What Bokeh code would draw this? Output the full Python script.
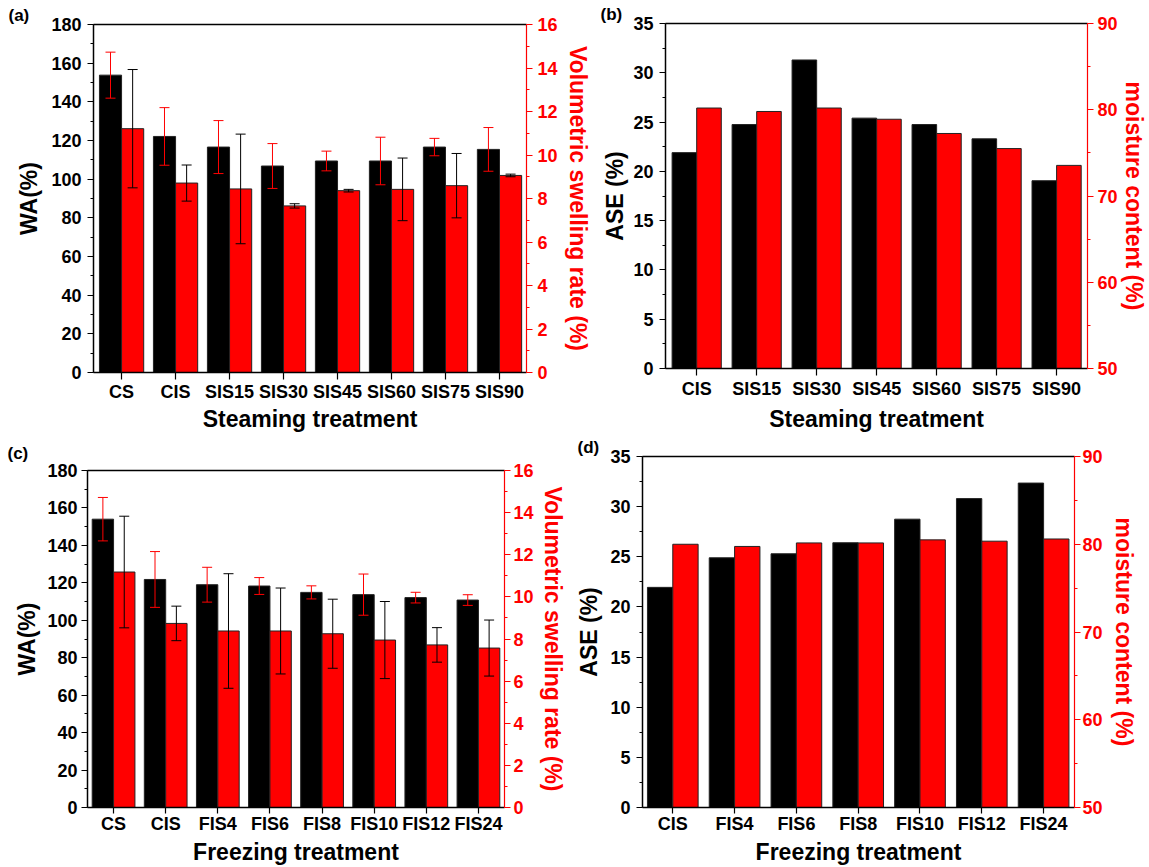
import numpy as np
from bokeh.plotting import figure
from bokeh.models import (Range1d, LinearAxis, FixedTicker, SingleIntervalTicker,
                          Whisker, TeeHead, ColumnDataSource)
from bokeh.layouts import row, column
from bokeh.embed import file_html
from bokeh.resources import INLINE

# ---------------- data ----------------
steam_cats_a = ["CS", "CIS", "SIS15", "SIS30", "SIS45", "SIS60", "SIS75", "SIS90"]
wa_steam = [153.8, 122.1, 116.6, 106.8, 109.4, 109.4, 116.6, 115.4]
wa_steam_err = [11.9, 14.9, 13.7, 11.6, 5.1, 12.3, 4.5, 11.3]
vsr_steam = [11.21, 8.71, 8.44, 7.66, 8.36, 8.42, 8.59, 9.06]
vsr_steam_err = [2.72, 0.83, 2.52, 0.10, 0.06, 1.44, 1.48, 0.06]

steam_cats_b = ["CIS", "SIS15", "SIS30", "SIS45", "SIS60", "SIS75", "SIS90"]
ase_steam = [21.9, 24.75, 31.3, 25.4, 24.75, 23.3, 19.05]
mc_steam = [80.2, 79.8, 80.2, 78.9, 77.25, 75.5, 73.55]

freeze_cats_c = ["CS", "CIS", "FIS4", "FIS6", "FIS8", "FIS10", "FIS12", "FIS24"]
wa_freeze = [154.0, 121.8, 119.0, 118.3, 114.9, 113.7, 112.1, 110.8]
wa_freeze_err = [11.6, 14.9, 9.3, 4.5, 3.5, 11.0, 2.85, 2.85]
vsr_freeze = [11.18, 8.74, 8.38, 8.38, 8.25, 7.95, 7.72, 7.57]
vsr_freeze_err = [2.65, 0.82, 2.72, 2.04, 1.64, 1.83, 0.82, 1.33]

freeze_cats_d = ["CIS", "FIS4", "FIS6", "FIS8", "FIS10", "FIS12", "FIS24"]
ase_freeze = [21.95, 24.9, 25.3, 26.4, 28.75, 30.8, 32.35]
mc_freeze = [80.0, 79.75, 80.15, 80.15, 80.5, 80.35, 80.6]

FONT = "Liberation Sans"
RED = "#ff0000"


def style_axis(ax, color, tick_out, label_standoff, axis_label_standoff, minor_out=3):
    ax.axis_line_color = color
    ax.axis_line_width = 1.5
    ax.major_tick_line_color = color
    ax.minor_tick_line_color = color
    ax.major_tick_line_width = 1.2
    ax.minor_tick_line_width = 1
    ax.major_tick_in = 0
    ax.major_tick_out = tick_out
    ax.minor_tick_in = 0
    ax.minor_tick_out = minor_out
    ax.major_label_text_font = FONT
    ax.major_label_text_font_style = "bold"
    ax.major_label_text_font_size = "18px"
    ax.major_label_text_color = color
    ax.major_label_standoff = label_standoff
    ax.axis_label_text_font = FONT
    ax.axis_label_text_font_style = "bold"
    ax.axis_label_text_font_size = "23px"
    ax.axis_label_text_color = color
    ax.axis_label_standoff = axis_label_standoff


def panel(cats, lv, rv, lerr, rerr, lrange, linterval, rrange, rinterval,
          llabel, rlabel, xlabel, tag, g):
    n = len(cats)
    x0, x1 = g["xr"]
    p = figure(width=g["W"], height=g["H"], x_range=Range1d(x0, x1),
               y_range=Range1d(*lrange), output_backend="svg", toolbar_location=None,
               title=tag,
               min_border_left=g["L"], min_border_right=g["R"],
               min_border_top=g["T"], min_border_bottom=g["B"])
    p.extra_y_ranges = {"right": Range1d(*rrange)}
    p.grid.visible = False
    p.outline_line_color = None
    p.background_fill_color = "white"
    p.border_fill_color = "white"

    # panel tag as title, shifted left of the frame
    p.title.align = "left"
    p.title.offset = g["tag_dx"]
    p.title.standoff = g["ts"]
    p.title.text_font = FONT
    p.title.text_font_style = "bold"
    p.title.text_font_size = "17px"
    p.title.text_color = "black"

    idx = np.arange(n)
    bw = 0.41
    xb = idx - bw / 2
    xr = idx + bw / 2
    p.vbar(x=xb, top=lv, bottom=lrange[0], width=bw, fill_color="black",
           line_color="#222222", line_width=1)
    p.vbar(x=xr, top=rv, bottom=rrange[0], width=bw, fill_color=RED,
           line_color="#222222", line_width=1, y_range_name="right")

    if lerr is not None:
        lv_a = np.array(lv); le = np.array(lerr)
        src_l = ColumnDataSource(dict(base=xb, upper=lv_a + le, lower=lv_a - le))
        wl = Whisker(source=src_l, base="base", upper="upper", lower="lower",
                     dimension="height", line_color=RED, line_width=1, level="overlay",
                     upper_head=TeeHead(size=10, line_color=RED, line_width=1),
                     lower_head=TeeHead(size=10, line_color=RED, line_width=1))
        p.add_layout(wl)
        rv_a = np.array(rv); re_ = np.array(rerr)
        src_r = ColumnDataSource(dict(base=xr, upper=rv_a + re_, lower=rv_a - re_))
        wr = Whisker(source=src_r, base="base", upper="upper", lower="lower",
                     dimension="height", line_color="black", line_width=1, level="overlay",
                     y_range_name="right",
                     upper_head=TeeHead(size=10, line_color="black", line_width=1),
                     lower_head=TeeHead(size=10, line_color="black", line_width=1))
        p.add_layout(wr)

    xa = p.xaxis[0]
    xa.ticker = FixedTicker(ticks=list(range(n)), minor_ticks=[])
    xa.major_label_overrides = {i: c for i, c in enumerate(cats)}
    style_axis(xa, "black", g["xt"], g["xls"], g["xas"], minor_out=0)
    xa.axis_label = xlabel

    ya = p.yaxis[0]
    ya.ticker = SingleIntervalTicker(interval=linterval, num_minor_ticks=2)
    style_axis(ya, "black", 6, g["yls"], g["yas"])
    ya.axis_label = llabel

    ra = LinearAxis(y_range_name="right",
                    ticker=SingleIntervalTicker(interval=rinterval, num_minor_ticks=2),
                    axis_label=rlabel)
    style_axis(ra, RED, 6, g["rls"], g["ras"])
    ra.axis_line_width = 1.2
    p.add_layout(ra, "right")

    ta = LinearAxis(ticker=FixedTicker(ticks=[], minor_ticks=[]),
                    major_tick_out=0, major_tick_in=0, minor_tick_out=0, minor_tick_in=0,
                    major_label_standoff=0, axis_label_standoff=0,
                    axis_line_width=1.5, axis_line_color="black")
    p.add_layout(ta, "above")
    return p


ga = dict(W=594, H=434, L=93, R=68, T=24, B=62, xr=(-0.52, 7.5),
          xt=7, xls=2, xas=1, yls=6, yas=6, rls=5, ras=4, tag_dx=-85, ts=0)
gb = dict(W=555, H=434, L=71, R=59, T=23, B=66, xr=(-0.52, 6.515),
          xt=7, xls=3, xas=4, yls=6, yas=2, rls=4, ras=0, tag_dx=-65, ts=0)
gc = dict(W=570, H=433, L=87, R=66, T=35, B=60, xr=(-0.5, 7.5),
          xt=6, xls=0, xas=2, yls=4, yas=4, rls=3, ras=3, tag_dx=-80, ts=15)
gd = dict(W=579, H=433, L=72, R=75, T=22, B=60, xr=(-0.49, 6.5),
          xt=6, xls=0, xas=2, yls=6, yas=5, rls=2, ras=5, tag_dx=-65, ts=0)

pa = panel(steam_cats_a, wa_steam, vsr_steam, wa_steam_err, vsr_steam_err,
           (0, 180), 20, (0, 16), 2, "WA(%)", "Volumetric swelling rate (%)",
           "Steaming treatment", "(a)", ga)
pb = panel(steam_cats_b, ase_steam, mc_steam, None, None,
           (0, 35), 5, (50, 90), 10, "ASE (%)", "moisture content (%)",
           "Steaming treatment", "(b)", gb)
pc = panel(freeze_cats_c, wa_freeze, vsr_freeze, wa_freeze_err, vsr_freeze_err,
           (0, 180), 20, (0, 16), 2, "WA(%)", "Volumetric swelling rate (%)",
           "Freezing treatment", "(c)", gc)
pd_ = panel(freeze_cats_d, ase_freeze, mc_freeze, None, None,
            (0, 35), 5, (50, 90), 10, "ASE (%)", "moisture content (%)",
            "Freezing treatment", "(d)", gd)

# wrap each figure so that the row does not align the plot frames
layout = column(row(column(pa), column(pb)), row(column(pc), column(pd_)))
open("out.html", "w").write(file_html(layout, INLINE))
